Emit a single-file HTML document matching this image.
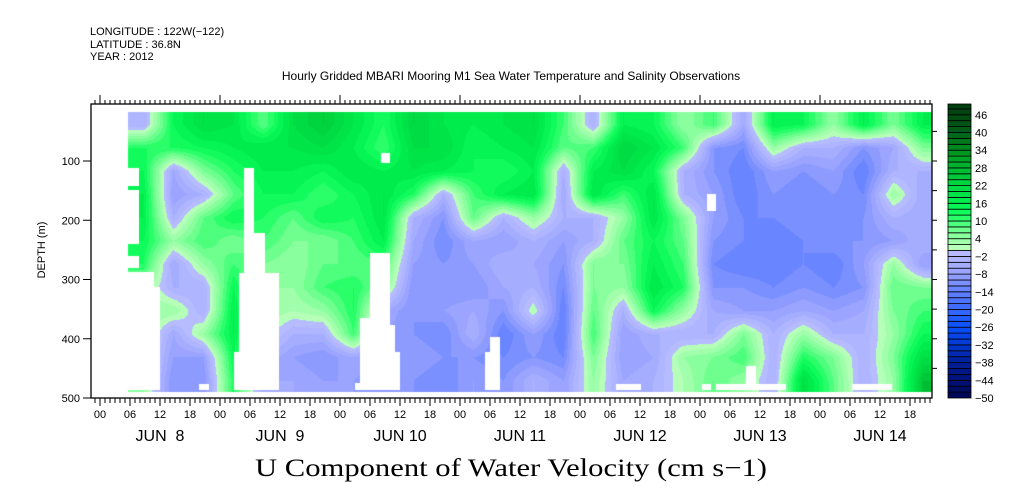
<!DOCTYPE html>
<html><head><meta charset="utf-8"><style>
html,body{margin:0;padding:0;background:#fff;width:1009px;height:504px;overflow:hidden}
#wrap{position:relative;width:1009px;height:504px}
canvas,svg{position:absolute;left:0;top:0}
text{font-family:"Liberation Sans",sans-serif;fill:#000}
</style></head><body>
<div id="wrap">
<canvas id="cv" width="1009" height="504"></canvas>
<svg id="sv" width="1009" height="504">
<text x="90" y="35" font-size="11">LONGITUDE : 122W(−122)</text>
<text x="90" y="48" font-size="11">LATITUDE : 36.8N</text>
<text x="90" y="60" font-size="11">YEAR : 2012</text>
<text x="511" y="80" font-size="12" text-anchor="middle">Hourly Gridded MBARI Mooring M1 Sea Water Temperature and Salinity Observations</text>
<text x="511" y="476" font-size="25" text-anchor="middle" textLength="512" lengthAdjust="spacingAndGlyphs" style="font-family:'Liberation Serif',serif">U Component of Water Velocity (cm s−1)</text>
<text transform="translate(45,250) rotate(-90)" font-size="11" text-anchor="middle">DEPTH (m)</text>
<g id="axes"></g>
<g id="cbar"></g>
</svg>
</div>
<script>
// time in hours since Jun 8 00:00; column centers every 6h starting at 8.6h
const colStartHour = 5.6;
const colStepHour = 6;
const rowStartDepth = 18;
const rowStepDepth = 39.3;
// values per time column (top -> bottom depth rows), cm/s
const col00 = [-4,12,14,16,16,14,12,4,4,6,4,4];
const col01 = [14,12,-6,-8,-4,4,-6,-4,4,-6,-8,-10];
const col02 = [20,14,6,-4,8,10,4,-4,-4,4,-8,-10];
const col03 = [18,16,12,8,14,6,10,14,16,16,14,12];
const col04 = [8,18,16,14,12,10,6,4,4,2,-4,-6];
const col05 = [20,18,16,14,8,6,4,4,2,-4,-8,-6];
const col06 = [24,20,14,10,14,6,8,10,4,-4,-10,-8];
const col07 = [18,16,18,14,12,10,8,12,12,10,-6,-8];
const col08 = [12,10,16,18,18,16,10,6,-6,-8,-10,-10];
const col09 = [22,20,18,12,-4,-6,-8,-10,-10,-10,-8,-10];
const col10 = [18,20,16,-4,-10,-12,-10,-10,-8,-12,-10,-12];
const col11 = [16,14,14,10,8,-6,-8,-10,-6,-4,-10,-8];
const col12 = [18,16,12,16,-4,-8,-4,-6,-10,-14,-12,-10];
const col13 = [20,18,16,18,4,-4,-6,-4,2,-8,-10,-4];
const col14 = [10,8,-4,-6,-4,-8,-10,-12,-14,-14,-12,-8];
const col15 = [-4,10,16,18,-4,-4,6,6,8,10,6,4];
const col16 = [16,22,20,10,4,8,6,4,-4,-8,-8,-6];
const col17 = [14,18,14,18,18,14,16,18,14,-4,-6,-4];
const col18 = [4,10,-4,-4,6,8,10,12,4,-4,4,2];
const col19 = [10,-10,-10,-8,-8,-10,-12,-10,-6,-4,6,8];
const col20 = [-6,-12,-14,-14,-12,-12,-14,-10,-8,6,10,4];
const col21 = [16,4,-8,-10,-12,-14,-14,-12,-8,-4,-4,-4];
const col22 = [14,-4,-10,-12,-10,-12,-12,-10,-6,4,12,20];
const col23 = [4,-4,-8,-10,-12,-10,-14,-12,-8,-4,6,8];
const col24 = [16,-10,-14,-12,-10,-10,-8,-10,-6,-4,-4,-4];
const col25 = [6,-6,-4,4,-4,-8,4,8,6,4,6,4];
const col26 = [16,6,-4,-6,-6,-4,-8,6,10,14,20,26];
const columns = [col00,col01,col02,col03,col04,col05,col06,col07,col08,col09,col10,col11,col12,col13,col14,col15,col16,col17,col18,col19,col20,col21,col22,col23,col24,col25,col26];
// colorbar levels
const cbarLabels = [46,40,34,28,22,16,10,4,-2,-8,-14,-20,-26,-32,-38,-44,-50];
const depthTicks = [100,200,300,400,500];
const hourLabels = ["00","06","12","18"];
const dayLabels = ["JUN  8","JUN  9","JUN 10","JUN 11","JUN 12","JUN 13","JUN 14"];

const X0=91, X1=932, Y0=104, Y1=398;
function xOf(h){return 100+5*h;}
function yOf(d){return 101.75+0.5925*d;}
function vOf(v){return 398-(v+50)*2.95;}

const stops=[[-50,[0,8,80]],[-44,[0,16,120]],[-38,[0,32,150]],[-32,[0,56,208]],[-26,[8,80,255]],[-20,[58,104,255]],[-14,[96,128,255]],[-8,[150,160,255]],[-2,[180,186,255]],[0,[184,190,255]],[0.01,[192,255,192]],[4,[150,255,165]],[8,[96,255,136]],[12,[24,255,96]],[16,[0,240,80]],[22,[0,216,64]],[28,[0,184,48]],[34,[0,144,30]],[40,[0,96,24]],[48,[0,64,16]]];
function colorOf(v){
  let q=Math.floor(v/2)*2+1; // center of 2-unit bin
  if(q<-49)q=-49; if(q>49)q=49;
  for(let i=1;i<stops.length;i++){
    if(q<=stops[i][0]){const a=stops[i-1],b=stops[i];const t=(q-a[0])/(b[0]-a[0]);
      return [0,1,2].map(k=>Math.round(a[1][k]+(b[1][k]-a[1][k])*t));}
  }
  return stops[stops.length-1][1];
}
const cv=document.getElementById('cv'); const ctx=cv.getContext('2d');
const img=ctx.createImageData(1009,504);
const nC=columns.length, nR=columns[0].length;
const dataX0=xOf(colStartHour), dataY0=yOf(rowStartDepth), dataY1=yOf(rowStartDepth+rowStepDepth*nR);
for(let py=Math.round(dataY0);py<Math.round(dataY1);py++){
  const d=(py-101.75)/0.5925;
  let fr=(d-rowStartDepth)/rowStepDepth-0.5; fr=Math.max(0,Math.min(nR-1,fr));
  const r0=Math.floor(fr), r1=Math.min(nR-1,r0+1), tr=fr-r0;
  for(let px=Math.round(dataX0);px<X1;px++){
    const h=(px-100)/5;
    let fc=(h-colStartHour)/colStepHour-0.5; fc=Math.max(0,Math.min(nC-1,fc));
    const c0=Math.floor(fc), c1=Math.min(nC-1,c0+1), tc=fc-c0;
    const v=(columns[c0][r0]*(1-tc)+columns[c1][r0]*tc)*(1-tr)+(columns[c0][r1]*(1-tc)+columns[c1][r1]*tc)*tr;
    const c=colorOf(v); const i=(py*1009+px)*4;
    img.data[i]=c[0];img.data[i+1]=c[1];img.data[i+2]=c[2];img.data[i+3]=255;
  }
}
ctx.putImageData(img,0,0);
// missing-data gaps
ctx.fillStyle='#fff';
[[128,168,11,18],[128,190,11,54],[128,256,11,12],[128,272,26,118],[154,287,6,103],[244,168,10,65],[244,233,21,40],[239,273,40,117],[234,352,10,38],[381,153,9,10],
 [360,318,10,72],[370,253,20,137],[390,325,5,65],[355,383,5,7],[395,352,5,38],[490,337,10,53],[485,352,5,38],
 [707,194,9,17],[616,384,25,6],[702,384,9,6],[716,384,70,6],[746,366,10,24],[852,384,40,6],[128,384,30,6],[199,384,10,6]].forEach(r=>ctx.fillRect(r[0],r[1],r[2],r[3]));

const NS='http://www.w3.org/2000/svg';
function mk(tag,attrs,parent){const e=document.createElementNS(NS,tag);for(const k in attrs)e.setAttribute(k,attrs[k]);parent.appendChild(e);return e;}
const ax=document.getElementById('axes');
const frame=mk('rect',{x:X0,y:Y0,width:X1-X0,height:Y1-Y0,fill:'none',stroke:'#000','stroke-width':1.3},ax);


let p='';
for(let h=-1;h<=166;h++){const x=xOf(h);if(x<X0||x>X1)continue;
  const day=(h%24===0), six=(h%6===0);
  p+=`M${x} ${Y1}v${six?8:5}`;
  p+=`M${x} ${Y0}v-${day?9:4}`;
}
for(let d=50;d<500;d+=50){const y=yOf(d);p+=`M${X1} ${y}h5M${X0} ${y}h-${d%100===0?0:0}`;}
depthTicks.forEach(d=>{const y=yOf(d);p+=`M${X0} ${y}h-8`;});
const tk=mk('path',{d:p,stroke:'#000','stroke-width':1,fill:'none'},ax);


depthTicks.forEach(d=>{const t=mk('text',{x:80,y:yOf(d)+4,'font-size':11,'text-anchor':'end'},ax);t.textContent=d;
  
  });
for(let h=0;h<=162;h+=6){const t=mk('text',{x:xOf(h),y:418,'font-size':11,'text-anchor':'middle'},ax);t.textContent=hourLabels[(h/6)%4];
  
  }
dayLabels.forEach((s,i)=>{const t=mk('text',{x:xOf(24*i+12),y:441,'font-size':16,'text-anchor':'middle','xml:space':'preserve'},ax);t.style.whiteSpace='pre';t.textContent=s;
  
  });
// colorbar
const cb=document.getElementById('cbar');
for(let v=-50;v<48;v+=2){const y1=vOf(v),y0=vOf(v+2);const c=colorOf(v+0.5);
  const r=mk('rect',{x:948,y:y0,width:23,height:y1-y0,fill:`rgb(${c})`,stroke:'#000','stroke-width':0.8},cb);
  
  }
{const c=colorOf(49);const r=mk('rect',{x:948,y:104,width:23,height:vOf(48)-104,fill:`rgb(${c})`,stroke:'#000','stroke-width':0.8},cb);
  
  }
cbarLabels.forEach(v=>{const y=vOf(v);
  const t=mk('text',{x:975,y:y+4,'font-size':11},cb);t.textContent=v<0?'−'+(-v):v;
  
  });
</script>
</body></html>
